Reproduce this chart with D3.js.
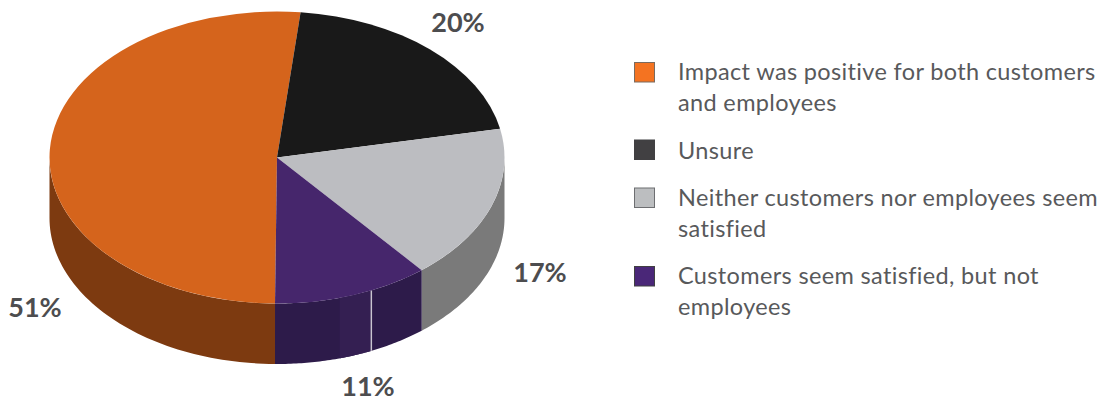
<!DOCTYPE html>
<html>
<head>
<meta charset="utf-8">
<style>
  html, body { margin: 0; padding: 0; background: #fff; }
  text { font-family: Lato, sans-serif; }
</style>
</head>
<body>
<div id="chart"></div>
<script src="https://cdn.jsdelivr.net/npm/d3@7"></script>
<script>
// Define the data for the pie chart
const categories = ["orange", "unsure", "neither", "customers"];
const values = [51, 20, 17, 11];
const valueLabels = ["51%", "20%", "17%", "11%"];
const legendLines = [
    ["Impact was positive for both customers", "and employees"],
    ["Unsure"],
    ["Neither customers nor employees seem", "satisfied"],
    ["Customers seem satisfied, but not", "employees"]
];

// Colours for the top face, the side wall and the legend
const topColors = ["#d5641c", "#191919", "#bcbdc1", "#46266c"];
const sideColors = ["#7d3a10", "#191919", "#7a7a7a", "#2d1b4a"];
const swatchColors = ["#f47321", "#414042", "#bcbec0", "#4a2778"];
const swatchStrokes = ["#7a6a5e", "#414042", "#6d6e71", "#414042"];

// Set up dimensions for the chart
const chartWidth = 1104;
const chartHeight = 402;
const cx = 277;
const cy = 157.5;
const rx = 227.5;
const ry = 146;
const depth = 60.5;
const rad = d => d * Math.PI / 180;
const startAngle = rad(180.5);

const svg = d3.select("#chart")
    .append("svg")
    .attr("width", chartWidth)
    .attr("height", chartHeight);

// Scales from the unit circle onto the tilted ellipse
const xScale = d3.scaleLinear().domain([-1, 1]).range([cx - rx, cx + rx]);
const yScale = d3.scaleLinear().domain([-1, 1]).range([cy - ry, cy + ry]);

const pie = d3.pie()
    .sort(null)
    .startAngle(startAngle)
    .endAngle(startAngle + 2 * Math.PI);
const slices = pie(values);

// Side wall, only the part that faces the viewer (90 to 270 degrees)
const wall = d3.area()
    .x(a => xScale(Math.sin(a)))
    .y0(a => yScale(-Math.cos(a)))
    .y1(a => yScale(-Math.cos(a)) + depth);

function wallAngles(a0, a1) {
    const steps = 60;
    return d3.range(steps + 1).map(i => a0 + (a1 - a0) * i / steps);
}

const walls = svg.append("g").attr("class", "walls");
slices.forEach((s, i) => {
    let a0 = s.startAngle;
    let a1 = s.endAngle;
    if (a0 >= 2 * Math.PI) {
        a0 -= 2 * Math.PI;
        a1 -= 2 * Math.PI;
    }
    a0 = Math.max(a0, rad(90));
    a1 = Math.min(a1, rad(270));
    if (a1 <= a0) return;
    walls.append("path")
        .attr("d", wall(wallAngles(a0, a1)))
        .attr("fill", sideColors[i]);
});

// Lighter band and the thin seam on the purple wall
walls.append("path")
    .attr("d", wall(wallAngles(rad(155.5), rad(164))))
    .attr("fill", "#341f52");
walls.append("path")
    .attr("d", wall(wallAngles(rad(155.3), rad(155.7))))
    .attr("fill", "#c9c5d0");

// Top face, a normal d3 pie squashed into an ellipse
const arc = d3.arc().innerRadius(0).outerRadius(rx);
const topFace = svg.append("g")
    .attr("class", "top-face")
    .attr("transform", `translate(${cx}, ${cy}) scale(1, ${ry / rx})`);
topFace.selectAll("path")
    .data(slices)
    .join("path")
    .attr("class", (d, i) => categories[i])
    .attr("d", arc)
    .attr("fill", (d, i) => topColors[i]);

// Percent labels
const labelX = [35, 458, 540, 368];
const labelY = [317, 32, 282, 396];
svg.append("g").selectAll("text")
    .data(valueLabels)
    .join("text")
    .attr("x", (d, i) => labelX[i])
    .attr("y", (d, i) => labelY[i])
    .attr("text-anchor", "middle")
    .attr("font-size", 27)
    .attr("font-weight", 700)
    .attr("fill", "#4d4d4f")
    .text(d => d);

// Legend
const swatchY = [62.5, 140, 188, 266.5];
const baselineY = [80, 159, 206, 284];
const legend = svg.append("g").attr("class", "legend");
legendLines.forEach((lines, i) => {
    legend.append("rect")
        .attr("x", 634.5)
        .attr("y", swatchY[i])
        .attr("width", 20)
        .attr("height", 19.5)
        .attr("fill", swatchColors[i])
        .attr("stroke", swatchStrokes[i])
        .attr("stroke-width", 1);
    lines.forEach((line, j) => {
        legend.append("text")
            .attr("x", 678)
            .attr("y", baselineY[i] + j * 31)
            .attr("font-size", 23.5)
            .attr("letter-spacing", 0.35)
            .attr("fill", "#58595b")
            .text(line);
    });
});
</script>
</body>
</html>
